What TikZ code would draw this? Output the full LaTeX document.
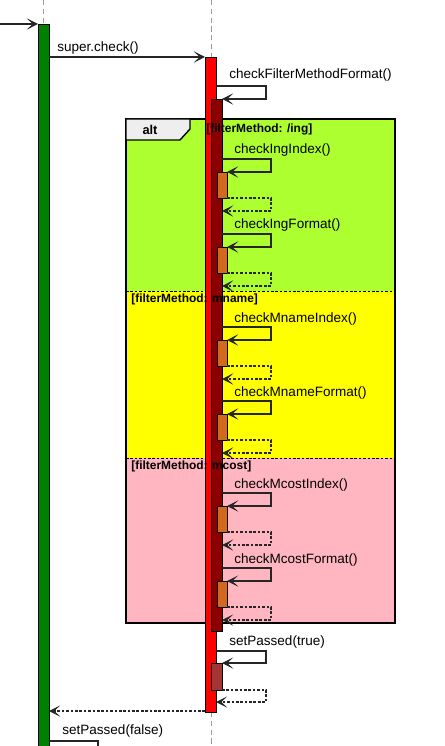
\documentclass[tikz,border=0pt]{standalone}
\usepackage{fontspec}
\setmainfont{Liberation Sans}
\usetikzlibrary{arrows.meta}

\definecolor{clientbar}{HTML}{008000}
\definecolor{checkbar}{HTML}{FF0000}
\definecolor{nestbar}{HTML}{8B0000}
\definecolor{subbar}{HTML}{D2691E}
\definecolor{passbar}{HTML}{A33535}
\definecolor{ingcol}{HTML}{ADFF2F}
\definecolor{mnamecol}{HTML}{FFFF00}
\definecolor{mcostcol}{HTML}{FFB6C1}
\definecolor{tabcol}{HTML}{EEEEEE}

\begin{document}
\begin{tikzpicture}[x=0.02cm,y=-0.02cm]

% Define styles
\tikzstyle{lifeline}=[gray!80, dash pattern=on 3pt off 2pt, line width=0.4pt]
\tikzstyle{bar}=[draw=black, line width=0.4pt]
\tikzstyle{msg}=[black!85, line width=0.6pt, -{Stealth[length=6.5pt,width=6.5pt,inset=3.5pt]}]
\tikzstyle{reply}=[msg, dash pattern=on 1.5pt off 1pt]
\tikzstyle{label}=[font=\fontsize{7.7}{9}\selectfont, inner sep=0pt, anchor=base west]
\tikzstyle{guard}=[font=\fontsize{6.8}{8}\selectfont\bfseries, inner sep=0pt, anchor=base west]

% Parameters
\def\loopw{49}
\def\drop{13}
\def\boxh{26}

\clip (0,0) rectangle (444,746);

% Alt fragment
\fill[ingcol] (126,119) rectangle (395,291);
\fill[mnamecol] (126,291) rectangle (395,458);
\fill[mcostcol] (126,458) rectangle (395,623);
\draw[dash pattern=on 1.5pt off 1pt, line width=0.4pt] (126,291) -- (395,291) (126,458) -- (395,458);
\draw[line width=0.8pt] (126,119) rectangle (395,623);
\draw[fill=tabcol, line width=0.8pt] (126,119) -- (190,119) -- (190,129) -- (180,140) -- (126,140) -- cycle;
\node[guard, font=\fontsize{7.3}{9}\selectfont\bfseries, anchor=base] (alt) at (150,135) {alt};

% Lifelines
\draw[lifeline] (43,0) -- (43,24);
\draw[lifeline] (211,0) -- (211,57) (211,712) -- (211,746);

% Activation bars
\draw[bar, fill=clientbar] (38,24) rectangle (49,760);
\draw[bar, fill=checkbar] (205,57) rectangle (216,712);
\draw[bar, fill=nestbar] (211,99) rectangle (222,631);
\draw[bar, fill=passbar] (211,663) rectangle (222,690);

% Incoming call and super.check()
\coordinate (caller) at (0,24);
\coordinate (client) at (38,24);
\draw[msg] (caller) -- (client);
\coordinate (superfrom) at (49,57);
\coordinate (superto) at (205,57);
\draw[msg] (superfrom) -- (superto);
\node[label] (super) at (57,52) {super.check()};

% checkFilterMethodFormat()
\coordinate (fmt) at (216,86);
\draw[msg] (fmt) -- ++(50,0) -- ++(0,\drop) -- ++(-44,0);
\node[label] (fmtlbl) at (229,79) {checkFilterMethodFormat()};

% Self calls inside the alt fragment
\foreach \y/\name [count=\i] in {159/{checkIngIndex()}, 234/{checkIngFormat()},
                                 327/{checkMnameIndex()}, 401/{checkMnameFormat()},
                                 493/{checkMcostIndex()}, 568/{checkMcostFormat()}} {
  \coordinate (go\i) at (222,\y);
  \coordinate (back\i) at (227,\y+\drop+\boxh);
  \draw[bar, fill=subbar] (217,\y+\drop) rectangle ++(10,\boxh);
  \draw[msg] (go\i) -- ++(\loopw,0) -- ++(0,\drop) -- ++(-44,0);
  \draw[reply] (back\i) -- ++(44,0) -- ++(0,\drop) -- ++(-\loopw,0);
  \node[label] (call\i) at (234,\y-5) {\name};
}

% Guards
\node[guard] (g1) at (206,133) {[filterMethod: /ing]};
\node[guard] (g2) at (131,302) {[filterMethod: mname]};
\node[guard] (g3) at (131,469) {[filterMethod: mcost]};

% setPassed(true)
\coordinate (pass) at (216,651);
\coordinate (passback) at (222,690);
\draw[msg] (pass) -- ++(50,0) -- ++(0,12) -- ++(-44,0);
\draw[reply] (passback) -- ++(44,0) -- ++(0,12) -- ++(-50,0);
\node[label] (passlbl) at (229,645) {setPassed(true)};

% Return to the client
\coordinate (retfrom) at (205,711);
\coordinate (retto) at (49,711);
\draw[reply] (retfrom) -- (retto);

% setPassed(false)
\coordinate (fail) at (49,741);
\draw[black!85, line width=0.6pt] (fail) -- ++(49,0) -- ++(0,20);
\node[label] (faillbl) at (62,734) {setPassed(false)};

\end{tikzpicture}
\end{document}
